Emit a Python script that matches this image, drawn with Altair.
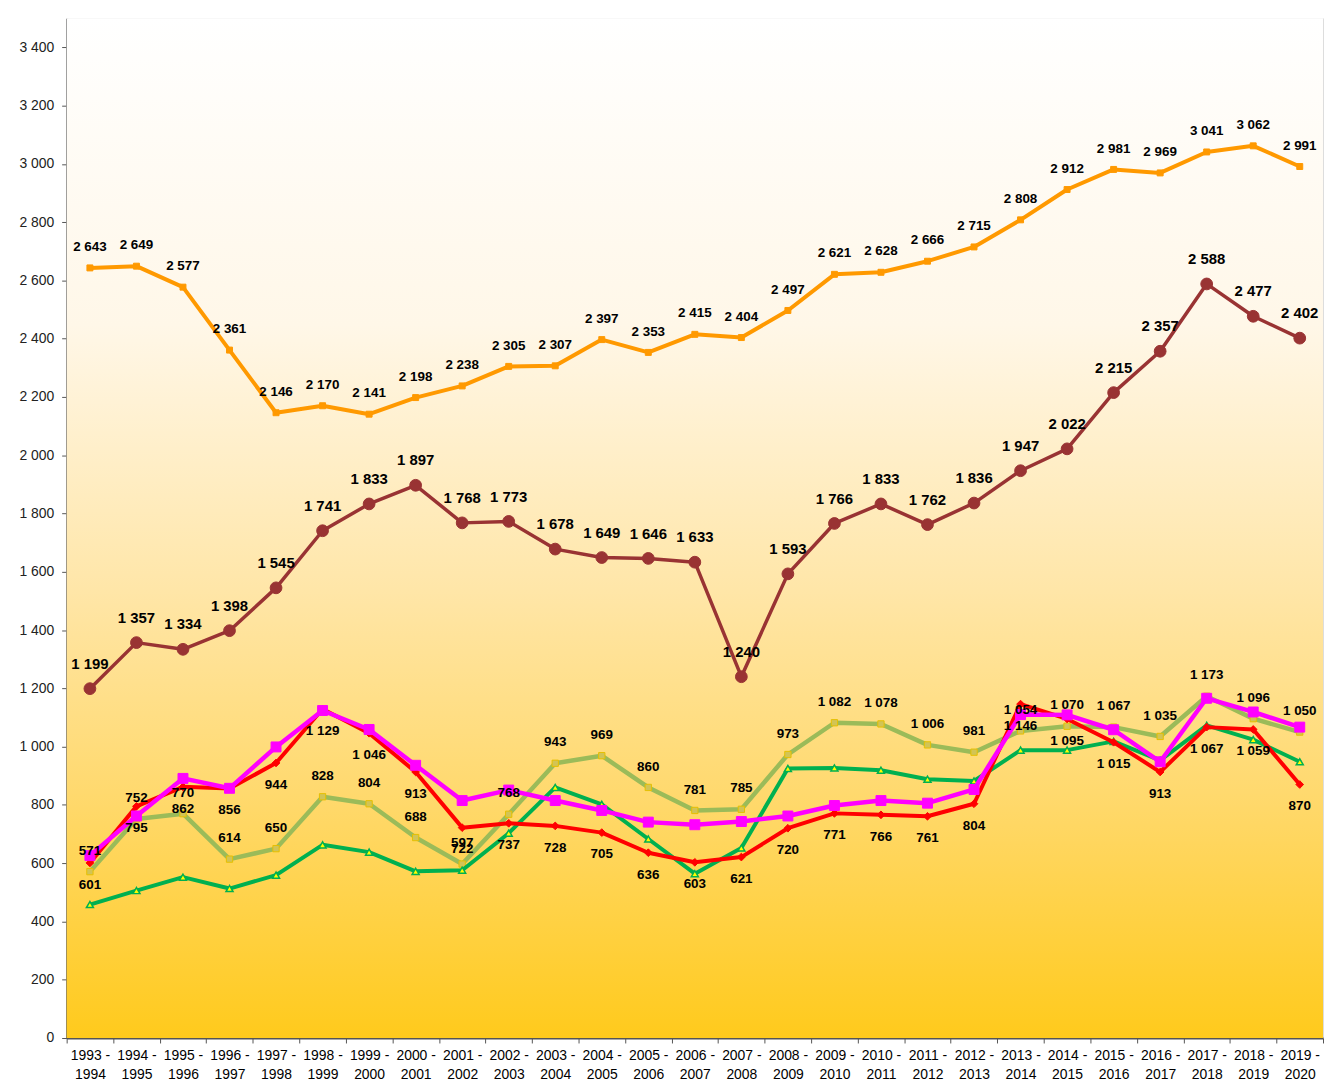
import altair as alt
import pandas as pd

periods = [
    "1993 - 1994", "1994 - 1995", "1995 - 1996", "1996 - 1997", "1997 - 1998",
    "1998 - 1999", "1999 - 2000", "2000 - 2001", "2001 - 2002", "2002 - 2003",
    "2003 - 2004", "2004 - 2005", "2005 - 2006", "2006 - 2007", "2007 - 2008",
    "2008 - 2009", "2009 - 2010", "2010 - 2011", "2011 - 2012", "2012 - 2013",
    "2013 - 2014", "2014 - 2015", "2015 - 2016", "2016 - 2017", "2017 - 2018",
    "2018 - 2019", "2019 - 2020",
]

orange = [2643, 2649, 2577, 2361, 2146, 2170, 2141, 2198, 2238, 2305, 2307, 2397, 2353, 2415,
          2404, 2497, 2621, 2628, 2666, 2715, 2808, 2912, 2981, 2969, 3041, 3062, 2991]
brown = [1199, 1357, 1334, 1398, 1545, 1741, 1833, 1897, 1768, 1773, 1678, 1649, 1646, 1633,
         1240, 1593, 1766, 1833, 1762, 1836, 1947, 2022, 2215, 2357, 2588, 2477, 2402]
olive = [571, 752, 770, 614, 650, 828, 804, 688, 597, 768, 943, 969, 860, 781,
         785, 973, 1082, 1078, 1006, 981, 1054, 1070, 1067, 1035, 1173, 1096, 1050]
red = [601, 795, 862, 856, 944, 1129, 1046, 913, 722, 737, 728, 705, 636, 603,
       621, 720, 771, 766, 761, 804, 1146, 1095, 1015, 913, 1067, 1059, 870]
magenta = [626, 762, 891, 857, 999, 1124, 1059, 936, 815, 851, 815, 781, 741, 732,
           743, 762, 798, 815, 806, 853, 1110, 1109, 1058, 948, 1166, 1119, 1067]
green = [458, 506, 552, 513, 559, 663, 638, 572, 576, 703, 860, 802, 683, 564,
         652, 925, 927, 919, 888, 882, 988, 988, 1018, 953, 1073, 1024, 948]

y_ticks = list(range(0, 3401, 200))

W, H = 1264, 1026
FONT = "Liberation Sans"


def frame(vals):
    return pd.DataFrame({
        "period": periods,
        "value": vals,
        "label": [f"{v:,}".replace(",", " ") for v in vals],
    })


x_enc = alt.X(
    "period:N",
    sort=periods,
    scale=alt.Scale(type="band", domain=periods, paddingInner=0, paddingOuter=0),
    axis=alt.Axis(
        title=None,
        labelAngle=0,
        labelFont=FONT,
        labelFontSize=14,
        labelColor="black",
        labelLineHeight=19,
        labelBaseline="top",
        labelPadding=6,
        labelExpr="[slice(datum.label, 0, 6), slice(datum.label, 7)]",
        tickBand="extent",
        tickSize=5,
        tickColor="#555555",
        domainColor="#555555",
        domainWidth=2,
        grid=False,
    ),
)
y_enc = alt.Y(
    "value:Q",
    scale=alt.Scale(domain=[0, 3500], nice=False, zero=True),
    axis=alt.Axis(
        title=None,
        values=y_ticks,
        labelExpr="replace(format(datum.value, ','), ',', ' ')",
        labelFont=FONT,
        labelFontSize=14,
        labelColor="#222222",
        labelPadding=8,
        tickSize=5,
        tickColor="#555555",
        domainColor="#555555",
        domainWidth=2,
        grid=True,
        gridColor="black",
        gridDash=[2, 2],
        gridWidth=1,
        gridOpacity=0.9,
    ),
)

bg = alt.Chart(alt.Data(values=[{}])).mark_rect(
    color=alt.Gradient(
        gradient="linear",
        stops=[
            alt.GradientStop(color="#FFFFFF", offset=0),
            alt.GradientStop(color="#FFF7E8", offset=0.3),
            alt.GradientStop(color="#FFE6A8", offset=0.56),
            alt.GradientStop(color="#FFD96E", offset=0.76),
            alt.GradientStop(color="#FFCA1C", offset=1),
        ],
        x1=0, x2=0, y1=0, y2=1,
    )
).encode(x=alt.value(0), x2=alt.value(W), y=alt.value(0), y2=alt.value(H))


def series(vals, color, width, shape, size, fill, stroke, sw):
    d = frame(vals)
    base = alt.Chart(d).encode(x=x_enc, y=y_enc)
    line = base.mark_line(color=color, strokeWidth=width, strokeJoin="round", strokeCap="round")
    pts = base.mark_point(shape=shape, size=size, filled=True, fill=fill, stroke=stroke,
                          strokeWidth=sw, opacity=1)
    return [line, pts]


def labels(vals, dy, size):
    d = frame(vals)
    return alt.Chart(d).mark_text(
        dy=dy, font=FONT, fontSize=size, fontWeight="bold", color="black"
    ).encode(x=x_enc, y=y_enc, text="label:N")


layers = [bg]
layers += series(olive, "#9BBB59", 4.5, "square", 40, "#D2C455", "#E6C000", 1)
layers += series(green, "#00B050", 4, "triangle-up", 50, "#FFFF00", "#00B050", 1.5)
layers += series(red, "#FF0000", 4, "diamond", 60, "#FF0000", "#FF0000", 1)
layers += series(magenta, "#FF00FF", 4.5, "square", 100, "#FF00FF", "#FF00FF", 1)
layers += series(brown, "#993333", 3.5, "circle", 140, "#993333", "#993333", 1)
layers += series(orange, "#FF9900", 4, "square", 36, "#FF9900", "#FF9900", 1)
layers += [
    labels(olive, -21, 13.5),
    labels(red, 22, 13.5),
    labels(brown, -25, 15),
    labels(orange, -21, 13.5),
]

chart = alt.layer(*layers).properties(
    width=W,
    height=H,
    autosize=alt.AutoSizeParams(type="none"),
    padding={"left": 59, "top": 7, "right": 2, "bottom": 45},
).configure_view(stroke="#999999", strokeWidth=2).configure(background="white")

chart.save("out.html", embed_options={"renderer": "svg", "actions": False})
